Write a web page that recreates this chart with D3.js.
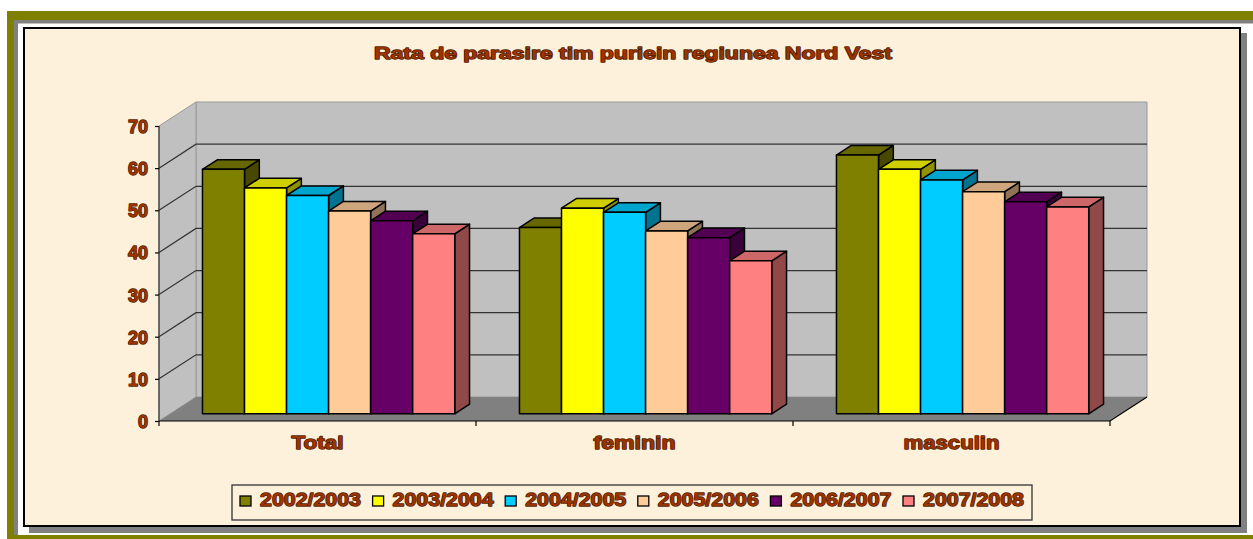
<!DOCTYPE html>
<html>
<head>
<meta charset="utf-8">
<script src="https://cdn.jsdelivr.net/npm/d3@7"></script>
<style>
  body { margin: 0; background: #fff; }
  svg { display: block; }
  text { font-family: "Liberation Sans", Arial, sans-serif; font-weight: bold; }
</style>
</head>
<body>
<script>
// data
var categories = ["Total", "feminin", "masculin"];
var seriesNames = ["2002/2003", "2003/2004", "2004/2005", "2005/2006", "2006/2007", "2007/2008"];
var s2002 = [58.0, 44.2, 61.4];
var s2003 = [53.6, 48.8, 58.0];
var s2004 = [51.8, 47.8, 55.5];
var s2005 = [48.1, 43.4, 52.7];
var s2006 = [45.8, 41.8, 50.3];
var s2007 = [42.7, 36.3, 49.1];
var seriesValues = [s2002, s2003, s2004, s2005, s2006, s2007];
var yTicks = [0, 10, 20, 30, 40, 50, 60, 70];
var title = "Rata de parasire tim puriein regiunea Nord Vest";

var colors = ["#808000", "#FFFF00", "#00CCFF", "#FFCC99", "#660066", "#FF8080"];

var width = 1253, height = 539;
var txtFill = "#993300", txtStroke = "#4f1a00";

var svg = d3.select("body").append("svg")
    .attr("width", width)
    .attr("height", height);

// frame
svg.append("rect").attr("x", 7).attr("y", 11).attr("width", 1260).attr("height", 540).attr("fill", "#808000");
svg.append("rect").attr("x", 14).attr("y", 20).attr("width", 1250).attr("height", 515).attr("fill", "#fff");
svg.append("rect").attr("x", 14).attr("y", 20).attr("width", 1250).attr("height", 3.5).attr("fill", "#808080");
svg.append("rect").attr("x", 14).attr("y", 20).attr("width", 4).attr("height", 515).attr("fill", "#808080");
svg.append("rect").attr("x", 29).attr("y", 33).attr("width", 1218).attr("height", 500).attr("fill", "#808080");
svg.append("rect").attr("x", 24).attr("y", 28).attr("width", 1216).attr("height", 498)
    .attr("fill", "#FDF1DC").attr("stroke", "#000").attr("stroke-width", 2);

function outlined(sel) {
    return sel.attr("fill", txtFill).attr("stroke", txtStroke)
        .attr("stroke-width", 1.3).attr("paint-order", "stroke")
        .attr("stroke-linejoin", "round");
}

// title
outlined(svg.append("text"))
    .attr("x", 633).attr("y", 59)
    .attr("text-anchor", "middle")
    .attr("font-size", 16)
    .attr("textLength", 518).attr("lengthAdjust", "spacingAndGlyphs")
    .text(title);

// scales (front plane)
var x = d3.scaleBand().domain(categories).range([159, 1110]).padding(0);
var xs = d3.scaleBand().domain(seriesNames).range([0, x.bandwidth()])
    .paddingInner(0).paddingOuter(0.77);
var y = d3.scaleLinear().domain([0, 70]).range([421, 126]);

// oblique depth
var DX = 37, DY = -24;
function P(px, py, t) { return [px + t * DX, py + t * DY]; }
function poly(pts) { return "M" + pts.map(function (p) { return p[0] + "," + p[1]; }).join("L") + "Z"; }

var xL = x.range()[0], xR = x.range()[1];
var chart = svg.append("g");

// back wall
chart.append("path")
    .attr("d", poly([P(xL, y(70), 1), P(xR, y(70), 1), P(xR, y(0), 1), P(xL, y(0), 1)]))
    .attr("fill", "#C0C0C0").attr("stroke", "#999").attr("stroke-width", 1);
// left wall
chart.append("path")
    .attr("d", poly([[xL, y(70)], P(xL, y(70), 1), P(xL, y(0), 1), [xL, y(0)]]))
    .attr("fill", "#C0C0C0").attr("stroke", "#999").attr("stroke-width", 1);

// gridlines
yTicks.filter(function (d) { return d > 0 && d < 70; }).forEach(function (v) {
    var a = P(xL, y(v), 1), b = P(xR, y(v), 1);
    chart.append("path").attr("d", "M" + xL + "," + y(v) + "L" + a[0] + "," + a[1] + "L" + b[0] + "," + b[1])
        .attr("fill", "none").attr("stroke", "#333").attr("stroke-width", 1.2);
});

// floor
chart.append("path")
    .attr("d", poly([[xL, y(0)], [xR, y(0)], P(xR, y(0), 1), P(xL, y(0), 1)]))
    .attr("fill", "#808080");
chart.append("path")
    .attr("d", "M" + xL + "," + y(0) + "L" + xR + "," + y(0) + "L" + P(xR, y(0), 1).join(","))
    .attr("fill", "none").attr("stroke", "#000").attr("stroke-width", 1.2);
chart.append("line").attr("x1", xL).attr("x2", xL).attr("y1", y(70)).attr("y2", y(0))
    .attr("stroke", "#333").attr("stroke-width", 1.2);

// y axis ticks + labels
var yAxis = d3.axisLeft(y).tickValues(yTicks).tickSize(4).tickPadding(7);
var ya = svg.append("g").attr("transform", "translate(" + xL + ",0)").call(yAxis);
ya.select(".domain").remove();
ya.selectAll(".tick line").attr("stroke", "#000").attr("stroke-width", 1.2);
outlined(ya.selectAll(".tick text"))
    .attr("font-size", 18).attr("font-family", null)
    .attr("dy", "0.36em");

// category ticks at band edges
var edges = categories.map(function (c) { return x(c); }).concat([xR]);
svg.selectAll(".ctick").data(edges).enter().append("line")
    .attr("x1", function (d) { return d; }).attr("x2", function (d) { return d; })
    .attr("y1", y(0)).attr("y2", y(0) + 5)
    .attr("stroke", "#000").attr("stroke-width", 1.2);

// category labels (widened like the original rendering)
var labelWidth = { "Total": 52, "feminin": 82, "masculin": 96 };
var xAxis = d3.axisBottom(x).tickSize(0).tickPadding(0);
var xa = svg.append("g").attr("transform", "translate(0," + y(0) + ")").call(xAxis);
xa.select(".domain").remove();
outlined(xa.selectAll(".tick text"))
    .attr("font-size", 18).attr("font-family", null)
    .attr("y", 28).attr("dy", 0)
    .attr("textLength", function (d) { return labelWidth[d]; })
    .attr("lengthAdjust", "spacingAndGlyphs");

// bars
var T0 = 0.3, T1 = 0.7;
categories.forEach(function (cat, i) {
    var g = chart.append("g");
    seriesNames.forEach(function (s, j) {
        var v = seriesValues[j][i];
        var x0 = x(cat) + xs(s), x1 = x0 + xs.bandwidth();
        var yt = y(v), yb = y(0);
        var c = d3.color(colors[j]);
        var bar = g.append("g")
            .attr("stroke", "#000").attr("stroke-width", 1.5).attr("stroke-linejoin", "round");
        bar.append("path")
            .attr("d", poly([P(x1, yt, T0), P(x1, yt, T1), P(x1, yb, T1), P(x1, yb, T0)]))
            .attr("fill", c.darker(1.6).formatHex());
        bar.append("path")
            .attr("d", poly([P(x0, yt, T0), P(x1, yt, T0), P(x1, yt, T1), P(x0, yt, T1)]))
            .attr("fill", c.darker(0.6).formatHex());
        bar.append("path")
            .attr("d", poly([P(x0, yt, T0), P(x1, yt, T0), P(x1, yb, T0), P(x0, yb, T0)]))
            .attr("fill", colors[j]);
    });
});

// legend
var legend = svg.append("g");
legend.append("rect").attr("x", 232).attr("y", 485).attr("width", 800).attr("height", 35)
    .attr("fill", "none").attr("stroke", "#333").attr("stroke-width", 1.3);
var li = legend.selectAll(".li").data(seriesNames).enter().append("g")
    .attr("transform", function (d, j) { return "translate(" + (240 + j * 132.6) + ",0)"; });
li.append("rect").attr("x", 0).attr("y", 496).attr("width", 11).attr("height", 10)
    .attr("fill", function (d, j) { return colors[j]; })
    .attr("stroke", "#000").attr("stroke-width", 1.3);
outlined(li.append("text"))
    .attr("x", 20).attr("y", 506)
    .attr("font-size", 18)
    .attr("textLength", 101).attr("lengthAdjust", "spacingAndGlyphs")
    .text(function (d) { return d; });
</script>
</body>
</html>
